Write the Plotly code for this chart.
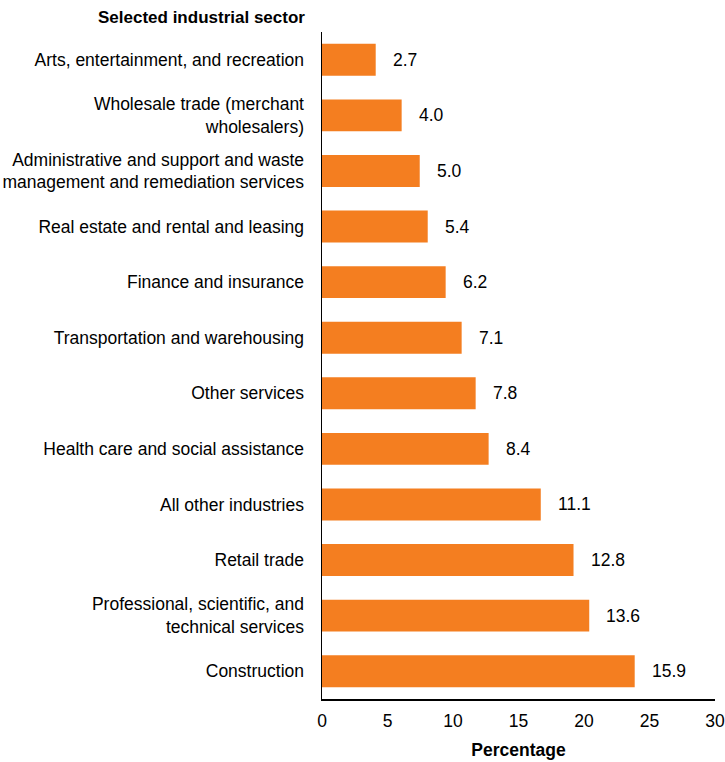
import plotly.graph_objects as go

categories = [
    "Arts, entertainment, and recreation",
    "Wholesale trade (merchant<br>wholesalers)",
    "Administrative and support and waste<br>management and remediation services",
    "Real estate and rental and leasing",
    "Finance and insurance",
    "Transportation and warehousing",
    "Other services",
    "Health care and social assistance",
    "All other industries",
    "Retail trade",
    "Professional, scientific, and<br>technical services",
    "Construction",
]
# bar lengths as read against the drawn axis
bar_lengths = [4.1, 6.08, 7.46, 8.07, 9.44, 10.66, 11.73, 12.72, 16.7, 19.2, 20.4, 23.87]
# printed data labels
value_labels = ["2.7", "4.0", "5.0", "5.4", "6.2", "7.1", "7.8", "8.4", "11.1", "12.8", "13.6", "15.9"]
x_ticks = [0, 5, 10, 15, 20, 25, 30]

FONT = "Liberation Sans, Arial, sans-serif"
FS = 17.5

fig = go.Figure()
fig.add_trace(go.Bar(
    y=categories,
    x=bar_lengths,
    orientation="h",
    marker=dict(color="#F47E20", line=dict(width=0)),
    width=0.575,
    hoverinfo="skip",
))

annotations = []
for cat, L, lab in zip(categories, bar_lengths, value_labels):
    annotations.append(dict(
        x=L, y=cat, xref="x", yref="y", text=lab, showarrow=False,
        xanchor="left", yanchor="middle", xshift=15, yshift=0,
        font=dict(family=FONT, size=FS, color="#000000"),
    ))
annotations.append(dict(
    x=0, y=1, xref="paper", yref="paper", text="<b>Selected industrial sector</b>",
    showarrow=False, xanchor="right", yanchor="bottom", xshift=-15, yshift=3,
    font=dict(family=FONT, size=17, color="#000000"),
))

fig.update_layout(
    width=725, height=762,
    margin=dict(l=322, r=10, t=32, b=63, autoexpand=False),
    paper_bgcolor="white", plot_bgcolor="white",
    showlegend=False,
    font=dict(family=FONT, size=FS, color="#000000"),
    annotations=annotations,
    xaxis=dict(
        range=[0, 30], tickvals=x_ticks, ticktext=[str(t) for t in x_ticks],
        automargin=False,
        showgrid=False, zeroline=False, showline=True, linecolor="#000000", linewidth=1.5,
        ticks="", ticklabelstandoff=5, tickfont=dict(family=FONT, size=FS, color="#000000"),
        title=dict(text="<b>Percentage</b>", font=dict(family=FONT, size=FS, color="#000000"), standoff=14),
    ),
    yaxis=dict(
        categoryorder="array", categoryarray=categories, autorange="reversed",
        automargin=False,
        showgrid=False, zeroline=False, showline=True, linecolor="#000000", linewidth=1.5,
        ticks="", ticklabelstandoff=13, tickfont=dict(family=FONT, size=FS, color="#000000"),
    ),
)

fig.write_html(
    "out.html",
    config={"displayModeBar": False, "staticPlot": True},
    post_script="document.body.style.margin='0';document.body.style.overflow='hidden';",
)
